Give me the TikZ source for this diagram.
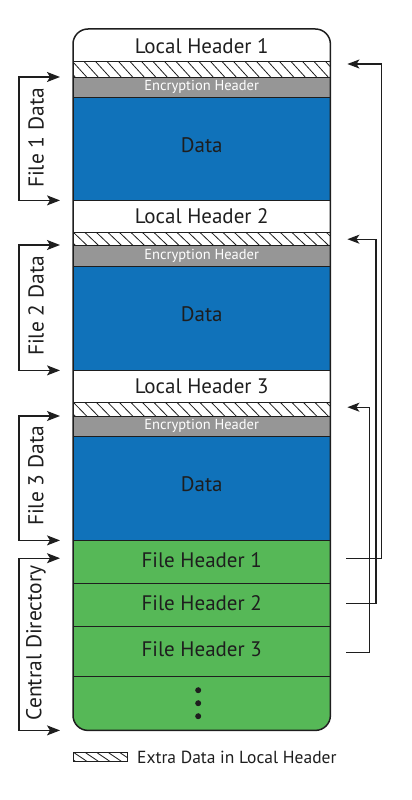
\documentclass[tikz,border=0pt]{standalone}
\usepackage{fontspec}
\setmainfont{PT Sans}
\usetikzlibrary{arrows.meta}
\definecolor{zblue}{RGB}{16,114,186}
\definecolor{zgreen}{RGB}{86,184,87}
\definecolor{zgray}{RGB}{150,150,150}
\definecolor{zink}{RGB}{30,30,30}
\newcommand\hatchrow[2]{%
  \begin{scope}
    \clip (#1.north west) rectangle (#1.south east);
    \foreach \i in {-2,...,#2}{
      \draw[hatchline] ([xshift=\i*11.5pt]#1.north west) -- ([xshift=\i*11.5pt+14pt]#1.south west);
    }
  \end{scope}}
\begin{document}
\begin{tikzpicture}[x=1pt,y=-1pt,
  row/.style={minimum width=257pt, inner sep=0pt, draw=none, anchor=north west, text=zink},
  bigtxt/.style={font=\fontsize{21}{21}\selectfont},
  datatxt/.style={font=\fontsize{21}{21}\selectfont, text depth=8pt},
  fhtxt/.style={font=\fontsize{21}{21}\selectfont, text depth=4pt},
  enctxt/.style={font=\fontsize{14.5}{14.5}\selectfont, text=white},
  side/.style={font=\fontsize{21.5}{21.5}\selectfont, rotate=90, text=zink},
  hatchline/.style={line width=0.8pt, draw=zink},
  divider/.style={line width=1pt, draw=zink},
  outline/.style={line width=1.5pt, draw=zink},
  bracket/.style={line width=1.3pt, draw=zink, {Stealth[length=13pt,width=10pt,inset=3pt]}-{Stealth[length=13pt,width=10pt,inset=3pt]}},
  rarrow/.style={line width=1.2pt, draw=zink, -{Stealth[length=12pt,width=9pt,inset=3pt]}}]
\useasboundingbox (0,0) rectangle (412,800);
% green bottom background with rounded bottom corners
\fill[zgreen, rounded corners=15pt] (73,540) rectangle (330,730);
% rows
\node[row, minimum height=33pt, bigtxt] (lh1) at (73,29) {Local Header 1};
\node[row, minimum height=15pt] (x1) at (73,62) {};
\node[row, minimum height=20pt, fill=zgray, enctxt] (e1) at (73,77) {Encryption Header};
\node[row, minimum height=103pt, fill=zblue, datatxt] (d1) at (73,97) {Data};
\node[row, minimum height=32pt, bigtxt] (lh2) at (73,200) {Local Header 2};
\node[row, minimum height=13pt] (x2) at (73,232) {};
\node[row, minimum height=21pt, fill=zgray, enctxt] (e2) at (73,245) {Encryption Header};
\node[row, minimum height=104pt, fill=zblue, datatxt] (d2) at (73,266) {Data};
\node[row, minimum height=32pt, bigtxt] (lh3) at (73,370) {Local Header 3};
\node[row, minimum height=14pt] (x3) at (73,402) {};
\node[row, minimum height=20pt, fill=zgray, enctxt] (e3) at (73,416) {Encryption Header};
\node[row, minimum height=104pt, fill=zblue, datatxt] (d3) at (73,436) {Data};
\node[row, minimum height=43pt, fill=zgreen, fhtxt] (fh1) at (73,540) {File Header 1};
\node[row, minimum height=43pt, fill=zgreen, fhtxt] (fh2) at (73,583) {File Header 2};
\node[row, minimum height=50pt, fill=zgreen, fhtxt] (fh3) at (73,626) {File Header 3};
\node[row, minimum height=54pt] (dots) at (73,676) {};
% hatching
\hatchrow{x1}{24}
\hatchrow{x2}{24}
\hatchrow{x3}{24}
% dots
\fill[zink] ([xshift=-3.5pt,yshift=13pt]dots.center) circle (3pt);
\fill[zink] ([xshift=-3.5pt]dots.center) circle (3pt);
\fill[zink] ([xshift=-3.5pt,yshift=-13pt]dots.center) circle (3pt);
% dividers
\foreach \n in {x1,e1,d1,lh2,x2,e2,d2,lh3,x3,e3,d3,fh1,fh2,fh3,dots}
  \draw[divider] (\n.north west) -- (\n.north east);
% outline
\draw[outline, rounded corners=15pt] (lh1.north west) rectangle (dots.south east);
% left brackets
\draw[bracket] ([xshift=-13pt]e1.north west) -- ([xshift=-54pt]e1.north west) |- ([xshift=-13pt]d1.south west);
\draw[bracket] ([xshift=-13pt]e2.north west) -- ([xshift=-54pt]e2.north west) |- ([xshift=-13pt]d2.south west);
\draw[bracket] ([xshift=-13pt]e3.north west) -- ([xshift=-54pt]e3.north west) |- ([xshift=-13pt]d3.south west);
\draw[bracket] ([xshift=-13pt,yshift=3.5pt]fh1.west) -- ([xshift=-54pt,yshift=3.5pt]fh1.west) |- ([xshift=-13pt]dots.south west);
\node[side] (fl1) at (36,138) {File 1 Data};
\node[side] (fl2) at (36,306) {File 2 Data};
\node[side] (fl3) at (36,476) {File 3 Data};
\node[side] (cdl) at (36,643) {Central Directory};
% right arrows
\coordinate (s1) at ([xshift=16pt,yshift=3.5pt]fh1.east);
\coordinate (s2) at ([xshift=16pt,yshift=1.5pt]fh2.east);
\coordinate (s3) at ([xshift=16pt,yshift=-1pt]fh3.east);
\coordinate (t1) at ([xshift=17pt,yshift=-2pt]x1.north east);
\coordinate (t2) at ([xshift=17pt,yshift=-0.5pt]x2.east);
\coordinate (t3) at ([xshift=17pt,yshift=2pt]x3.east);
\draw[rarrow] (s1) -- ++(35,0) |- (t1);
\draw[rarrow] (s2) -- ++(29.5,0) |- (t2);
\draw[rarrow] (s3) -- ++(23,0) |- (t3);
% legend
\node[minimum width=54pt, minimum height=9pt, inner sep=0pt, anchor=north west] (leg) at (73,752) {};
\hatchrow{leg}{6}
\draw[line width=0.8pt, draw=zink] (leg.north west) rectangle (leg.south east);
\node[anchor=west, inner sep=0pt, text=zink, font=\fontsize{17.5}{17.5}\selectfont] (legt) at (137,757) {Extra Data in Local Header};
\end{tikzpicture}
\end{document}
